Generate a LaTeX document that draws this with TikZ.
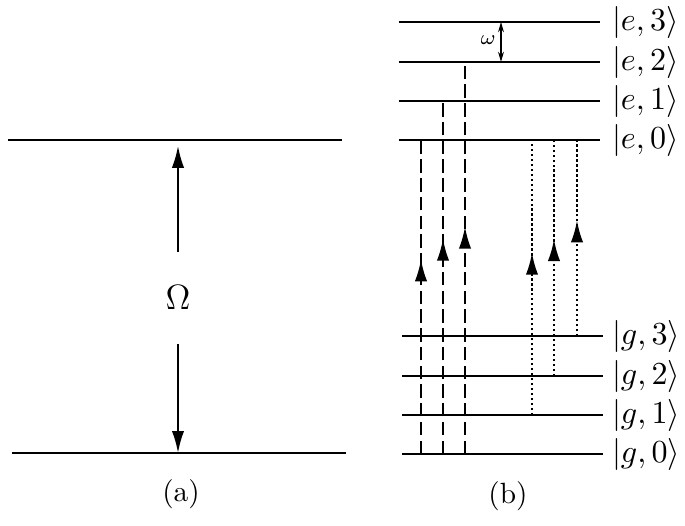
\documentclass[tikz,border=0pt]{standalone}
\usetikzlibrary{arrows.meta,decorations.markings}

\tikzset{every picture/.style={line width=0.7pt}}
\tikzset{
  level/.style={line width=0.75pt},
  ket/.style={anchor=west,inner sep=0pt,font=\fontsize{11.2}{13}\selectfont},
  bigtip/.style={-{Latex[length=7.5pt,width=4.2pt]}},
  midarrow/.style={postaction={decorate,decoration={markings,
      mark=at position #1 with {\arrow{Latex[length=7.5pt,width=4.2pt]}}}}},
  dashline/.style={dash pattern=on 4.6pt off 1.8pt},
  dotline/.style={dash pattern=on 0.8pt off 0.9pt}
}

\begin{document}
\begin{tikzpicture}[x=0.12mm,y=-0.12mm]
		%\draw [help lines] (0,0) grid (685,526);
		\useasboundingbox (0,0) rectangle (685,526);

		% (a)
		\coordinate (atopl) at (8,140);
		\coordinate (atopr) at (342,140);
		\coordinate (abotl) at (12,453);
		\coordinate (abotr) at (346,453);
		\draw[level] (atopl) -- (atopr);
		\draw[level] (abotl) -- (abotr);
		\node[minimum height=10.8mm,font=\fontsize{11.5}{13}\selectfont] (om) at (178,298) {$\Omega$};
		\draw[bigtip,shorten >=0.7mm] (om.north) -- (178,0 |- atopl);
		\draw[bigtip] (om.south) -- (178,0 |- abotl);
		\node (la) at (181,494) {(a)};

		% (b) levels
		\foreach \n/\y in {0/140,1/101,2/62,3/22} {
			\coordinate (e\n l) at (399,\y);
			\coordinate (e\n r) at (600,\y);
			\draw[level] (e\n l) -- (e\n r);
			\node[ket] (ek\n) at (611,\y) {$|e,\n\rangle$};
		}
		\foreach \n/\y in {0/454,1/415,2/376,3/336} {
			\coordinate (g\n l) at (402,\y);
			\coordinate (g\n r) at (603,\y);
			\draw[level] (g\n l) -- (g\n r);
			\node[ket] (gk\n) at (611,\y) {$|g,\n\rangle$};
		}

		% omega spacing
		\draw[{Stealth[length=3.5pt,width=2pt]}-{Stealth[length=3.5pt,width=2pt]},line width=0.4pt]
			(501,0 |- e3l) -- (501,0 |- e2l);
		\node[font=\scriptsize] (w) at (488,40) {$\omega$};

		% transitions
		\foreach \x/\n/\p in {421/0/0.62,443/1/0.61,465/2/0.58}
			\draw[dashline,midarrow=\p] (\x,0 |- g0l) -- (\x,0 |- e\n l);
		\foreach \x/\n/\p in {532/1/0.59,554/2/0.58,577/3/0.59}
			\draw[dotline,midarrow=\p] (\x,0 |- g\n l) -- (\x,0 |- e0l);

		\node (lb) at (508,496) {(b)};
	\end{tikzpicture}
\end{document}
